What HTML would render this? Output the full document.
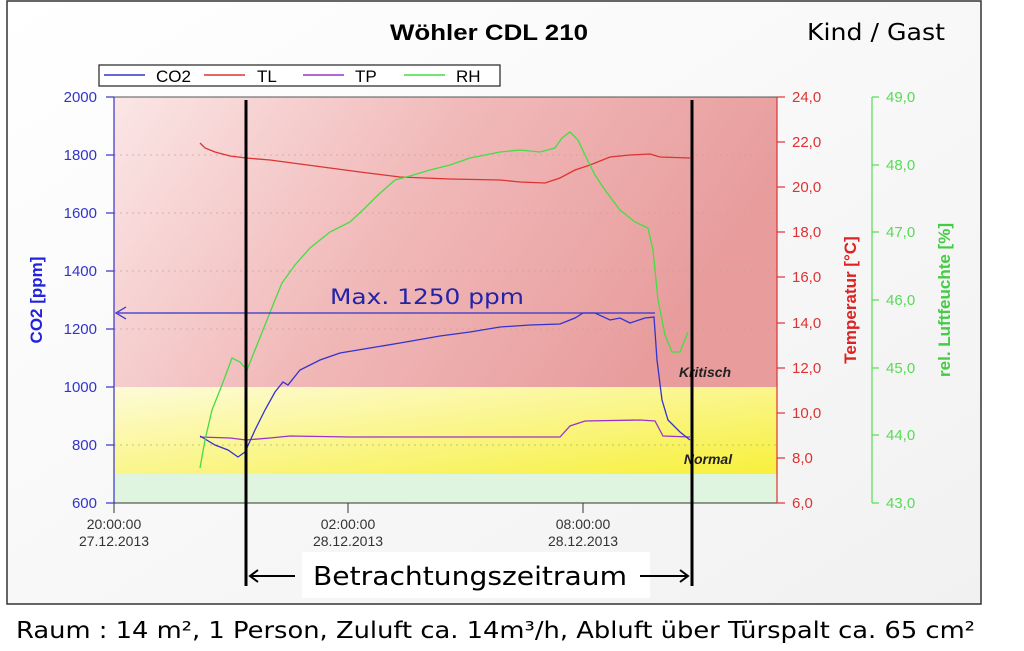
<!DOCTYPE html>
<html><head><meta charset="utf-8"><style>
html,body{margin:0;padding:0;background:#fff;}
svg{display:block;}
</style></head><body>
<svg width="1024" height="651" viewBox="0 0 1024 651" xmlns="http://www.w3.org/2000/svg" font-family="Liberation Sans, Arial, sans-serif">
<defs>
<linearGradient id="rg" x1="0" y1="0" x2="1" y2="0.3">
<stop offset="0" stop-color="#fbe6e6"/><stop offset="0.5" stop-color="#f1b9b9"/><stop offset="1" stop-color="#e89c9c"/>
</linearGradient>
<linearGradient id="yg" x1="0" y1="0" x2="1" y2="1">
<stop offset="0" stop-color="#fdfbd8"/><stop offset="1" stop-color="#f7f03c"/>
</linearGradient>
<linearGradient id="bgg" x1="0" y1="0" x2="1" y2="1">
<stop offset="0" stop-color="#ffffff"/><stop offset="1" stop-color="#f1f1f1"/>
</linearGradient>
</defs>
<rect x="7" y="1" width="974" height="603" fill="url(#bgg)" stroke="#333" stroke-width="1.5"/>
<text x="390" y="40" font-size="22" font-weight="bold" textLength="198" lengthAdjust="spacingAndGlyphs">Wöhler CDL 210</text>
<text x="807" y="40" font-size="23" font-family="DejaVu Sans, sans-serif" textLength="138" lengthAdjust="spacingAndGlyphs">Kind / Gast</text>
<!-- legend -->
<rect x="99" y="65" width="401" height="21" fill="#fff" stroke="#222" stroke-width="1.2"/>
<line x1="104" y1="75" x2="145" y2="75" stroke="#3333cc" stroke-width="1.5"/><text x="156" y="82" font-size="17">CO2</text>
<line x1="204" y1="75" x2="245" y2="75" stroke="#dd3333" stroke-width="1.5"/><text x="257" y="82" font-size="17">TL</text>
<line x1="303" y1="75" x2="344" y2="75" stroke="#9933cc" stroke-width="1.5"/><text x="355" y="82" font-size="17">TP</text>
<line x1="404" y1="75" x2="445" y2="75" stroke="#44dd44" stroke-width="1.5"/><text x="456" y="82" font-size="17">RH</text>
<!-- plot bg -->
<rect x="114" y="97" width="663" height="290" fill="url(#rg)"/>
<rect x="114" y="387" width="663" height="87" fill="url(#yg)"/>
<rect x="114" y="474" width="663" height="29" fill="#dff5df"/>
<g stroke="#c8a0a0" stroke-dasharray="2,4" stroke-width="1" opacity="0.7">
<line x1="114" y1="155" x2="777" y2="155"/><line x1="114" y1="213" x2="777" y2="213"/><line x1="114" y1="271" x2="777" y2="271"/><line x1="114" y1="329" x2="777" y2="329"/><line x1="114" y1="445" x2="777" y2="445" stroke="#b0b060"/>
</g>
<line x1="114" y1="97" x2="777" y2="97" stroke="#555" stroke-width="1"/>
<!-- left axis -->
<g stroke="#3333cc" stroke-width="1.2">
<line x1="114" y1="97" x2="114" y2="503"/>
<line x1="106" y1="97" x2="114" y2="97"/><line x1="106" y1="155" x2="114" y2="155"/><line x1="106" y1="213" x2="114" y2="213"/><line x1="106" y1="271" x2="114" y2="271"/><line x1="106" y1="329" x2="114" y2="329"/><line x1="106" y1="387" x2="114" y2="387"/><line x1="106" y1="445" x2="114" y2="445"/><line x1="106" y1="503" x2="114" y2="503"/>
</g>
<g fill="#3333cc" font-size="15" text-anchor="end">
<text x="97" y="102">2000</text><text x="97" y="160">1800</text><text x="97" y="218">1600</text><text x="97" y="276">1400</text><text x="97" y="334">1200</text><text x="97" y="392">1000</text><text x="97" y="450">800</text><text x="97" y="508">600</text>
</g>
<text transform="translate(42,300) rotate(-90)" fill="#2222dd" font-size="17" font-weight="bold" text-anchor="middle">CO2 [ppm]</text>
<!-- bottom axis -->
<line x1="114" y1="503" x2="777" y2="503" stroke="#333"/>
<g stroke="#333"><line x1="114" y1="503" x2="114" y2="513"/><line x1="348" y1="503" x2="348" y2="513"/><line x1="583" y1="503" x2="583" y2="513"/></g>
<g fill="#333" font-size="14" text-anchor="middle">
<text x="114" y="529">20:00:00</text><text x="114" y="546">27.12.2013</text>
<text x="348" y="529">02:00:00</text><text x="348" y="546">28.12.2013</text>
<text x="583" y="529">08:00:00</text><text x="583" y="546">28.12.2013</text>
</g>
<!-- right temp axis -->
<g stroke="#dd3333" stroke-width="1.2">
<line x1="777" y1="97" x2="777" y2="503"/>
<line x1="777" y1="97" x2="785" y2="97"/><line x1="777" y1="142" x2="785" y2="142"/><line x1="777" y1="187" x2="785" y2="187"/><line x1="777" y1="232" x2="785" y2="232"/><line x1="777" y1="277" x2="785" y2="277"/><line x1="777" y1="323" x2="785" y2="323"/><line x1="777" y1="368" x2="785" y2="368"/><line x1="777" y1="413" x2="785" y2="413"/><line x1="777" y1="458" x2="785" y2="458"/><line x1="777" y1="503" x2="785" y2="503"/>
</g>
<g fill="#dd3333" font-size="15">
<text x="792" y="102">24,0</text><text x="792" y="147">22,0</text><text x="792" y="192">20,0</text><text x="792" y="237">18,0</text><text x="792" y="282">16,0</text><text x="792" y="328">14,0</text><text x="792" y="373">12,0</text><text x="792" y="418">10,0</text><text x="792" y="463">8,0</text><text x="792" y="508">6,0</text>
</g>
<text transform="translate(856,300) rotate(-90)" fill="#dd2222" font-size="17" font-weight="bold" text-anchor="middle">Temperatur [°C]</text>
<!-- RH axis -->
<g stroke="#55dd55" stroke-width="1.2">
<line x1="872" y1="97" x2="872" y2="503"/>
<line x1="872" y1="97" x2="879" y2="97"/><line x1="872" y1="165" x2="879" y2="165"/><line x1="872" y1="232" x2="879" y2="232"/><line x1="872" y1="300" x2="879" y2="300"/><line x1="872" y1="368" x2="879" y2="368"/><line x1="872" y1="435" x2="879" y2="435"/><line x1="872" y1="503" x2="879" y2="503"/>
</g>
<g fill="#55dd55" font-size="15">
<text x="886" y="102">49,0</text><text x="886" y="170">48,0</text><text x="886" y="237">47,0</text><text x="886" y="305">46,0</text><text x="886" y="373">45,0</text><text x="886" y="440">44,0</text><text x="886" y="508">43,0</text>
</g>
<text transform="translate(950,300) rotate(-90)" fill="#44cc44" font-size="17" font-weight="bold" text-anchor="middle">rel. Luftfeuchte [%]</text>
<!-- series -->
<polyline fill="none" stroke="#dd3333" stroke-width="1.3" points="200,143 205,148 215,152 230,156 246,158 270,160 300,164 330,168 360,172 400,177 450,179 500,180 520,182 545,183 560,178 575,170 590,165 610,157 630,155 650,154 660,157 690,158"/>
<polyline fill="none" stroke="#9933cc" stroke-width="1.3" points="200,437 230,438 246,440 270,438 290,436 350,437 450,437 560,437 570,426 585,421 640,420 655,421 663,436 690,437"/>
<polyline fill="none" stroke="#3333cc" stroke-width="1.3" points="200,436 215,445 228,450 238,457 245,452 255,430 265,410 275,392 283,382 288,385 300,370 320,360 340,353 370,348 400,343 440,336 470,332 500,327 530,325 560,324 575,318 583,313 595,313 610,320 620,318 630,323 645,318 654,317 657,360 662,400 668,420 680,432 690,440"/>
<polyline fill="none" stroke="#44dd44" stroke-width="1.3" points="200,468 205,440 212,410 222,385 232,358 240,362 247,370 255,350 265,325 275,300 282,283 295,265 310,248 330,232 350,222 365,208 378,195 395,180 410,176 430,170 450,165 470,158 485,155 500,152 520,150 540,152 555,148 562,138 570,132 578,140 585,155 595,175 605,190 620,210 635,222 648,228 653,250 658,300 665,335 672,352 680,352 688,332"/>
<!-- max line -->
<line x1="118" y1="313" x2="655" y2="313" stroke="#3333cc" stroke-width="1.3"/>
<polyline fill="none" stroke="#3333cc" stroke-width="1.3" points="126,307 116,313 126,319"/>
<text x="330" y="304" fill="#2222aa" font-size="21" font-family="DejaVu Sans, sans-serif" textLength="194" lengthAdjust="spacingAndGlyphs">Max. 1250 ppm</text>
<text x="705" y="377" font-size="14" font-weight="bold" font-style="italic" fill="#222" text-anchor="middle">Kritisch</text>
<text x="708" y="464" font-size="14" font-weight="bold" font-style="italic" fill="#222" text-anchor="middle">Normal</text>
<!-- black verticals -->
<line x1="246" y1="100" x2="246" y2="586" stroke="#000" stroke-width="3"/>
<line x1="692" y1="100" x2="692" y2="586" stroke="#000" stroke-width="3"/>
<rect x="302" y="552" width="348" height="46" fill="#fff"/>
<line x1="250" y1="576" x2="295" y2="576" stroke="#000" stroke-width="2"/>
<polyline fill="none" stroke="#000" stroke-width="2" points="258,570 250,576 258,582"/>
<line x1="640" y1="576" x2="688" y2="576" stroke="#000" stroke-width="2"/>
<polyline fill="none" stroke="#000" stroke-width="2" points="680,570 688,576 680,582"/>
<text x="313" y="585" font-size="26" font-family="DejaVu Sans, sans-serif" textLength="314" lengthAdjust="spacingAndGlyphs">Betrachtungszeitraum</text>
<text x="16" y="638" font-size="23" font-family="DejaVu Sans, sans-serif" textLength="959" lengthAdjust="spacingAndGlyphs">Raum : 14 m², 1 Person, Zuluft ca. 14m³/h, Abluft über Türspalt ca. 65 cm²</text>
</svg>
</body></html>
